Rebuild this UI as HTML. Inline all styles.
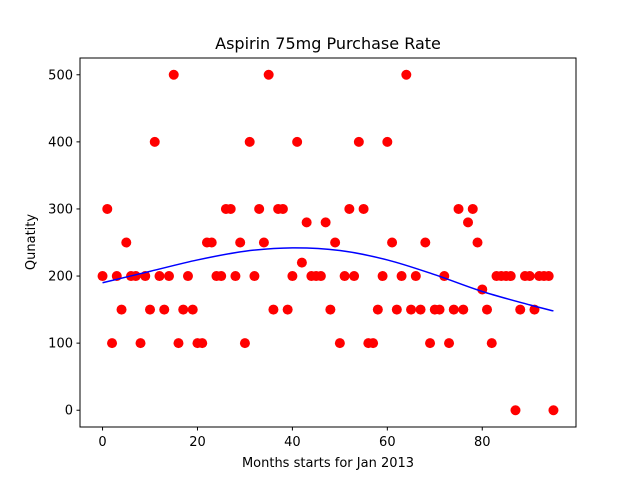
<!DOCTYPE html>
<html><head><meta charset="utf-8"><style>
body{margin:0;background:#fff}
svg{font-family:"DejaVu Sans","Liberation Sans",sans-serif}
</style></head><body>
<svg id="chart" width="640" height="480">
<rect width="640" height="480" fill="#fff"/>
<text x="328" y="49" text-anchor="middle" font-size="16">Aspirin 75mg Purchase Rate</text>
<g id="plot"></g>
<rect x="80" y="58" width="496" height="369" fill="none" stroke="#000" stroke-width="1"/>
<text x="328" y="467" text-anchor="middle" font-size="13">Months starts for Jan 2013</text>
<text transform="translate(35,242) rotate(-90)" text-anchor="middle" font-size="13">Qunatity</text>
</svg>
<script>
const values=[200,300,100,200,150,250,200,200,100,200,150,400,200,150,200,500,100,150,200,150,100,100,250,250,200,200,300,300,200,250,100,400,200,300,250,500,150,300,300,150,200,400,220,280,200,200,200,280,150,250,100,200,300,200,400,300,100,100,150,200,400,250,150,200,500,150,200,150,250,100,150,150,200,100,150,300,150,280,300,250,180,150,100,200,200,200,200,0,150,200,200,150,200,200,200,0];
const fitX=[0,10,20,30,40,50,60,70,80,90,95];
const fitY=[190,207,224,237,242,238,224,202,177,157,148];
const xTicks=[0,20,40,60,80];
const yTicks=[0,100,200,300,400,500];
const NS="http://www.w3.org/2000/svg";
const g=document.getElementById('plot');
const xs=v=>80+(v+4.75)*496/104.5;
const ys=v=>427-(v+25)*369/550;
function mk(t,a){const e=document.createElementNS(NS,t);for(const k in a)e.setAttribute(k,a[k]);g.appendChild(e);return e;}
xTicks.forEach(t=>{
 const l=mk('line',{x1:xs(t),x2:xs(t),y1:427,y2:430.5,stroke:'#000'});
 
 
 const tx=mk('text',{x:xs(t),y:446,'text-anchor':'middle','font-size':13});
 tx.textContent=t;
 
 
});
yTicks.forEach(t=>{
 const l=mk('line',{x1:76.5,x2:80,y1:ys(t),y2:ys(t),stroke:'#000'});
 
 
 const tx=mk('text',{x:73,y:ys(t)+4.5,'text-anchor':'end','font-size':13});
 tx.textContent=t;
 
 
});
values.forEach((v,i)=>{
 const c=mk('circle',{cx:xs(i),cy:ys(v),r:5,fill:'#ff0000'});
 
 
});
// smooth curve via Catmull-Rom
const P=fitX.map((x,i)=>[xs(x),ys(fitY[i])]);
let d='M'+P[0][0]+','+P[0][1];
for(let i=0;i<P.length-1;i++){
 const p0=P[Math.max(i-1,0)],p1=P[i],p2=P[i+1],p3=P[Math.min(i+2,P.length-1)];
 d+=` C${p1[0]+(p2[0]-p0[0])/6},${p1[1]+(p2[1]-p0[1])/6} ${p2[0]-(p3[0]-p1[0])/6},${p2[1]-(p3[1]-p1[1])/6} ${p2[0]},${p2[1]}`;
}
const path=mk('path',{d:d,fill:'none',stroke:'#0000ff','stroke-width':1.5});


</script>
</body></html>
